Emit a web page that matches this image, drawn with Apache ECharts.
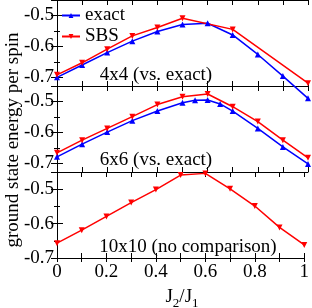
<!DOCTYPE html>
<html>
<head>
<meta charset="utf-8">
<script src="https://cdn.jsdelivr.net/npm/echarts@6/dist/echarts.min.js"></script>
<style>html,body{margin:0;padding:0;background:#fff}#c{width:312px;height:308px}</style>
</head>
<body>
<div id="c"></div>
<script>
// ---- data ----
var J2 = [0, 0.1, 0.2, 0.3, 0.4, 0.5, 0.6, 0.7, 0.8, 0.9, 1.0];
var tickLabels = ['0', '0.2', '0.4', '0.6', '0.8', '1'];

var J2_4x4_sbs = [0, 0.1, 0.2, 0.3, 0.4, 0.5, 0.7, 1.0];
var E_4x4_exact = [-0.700, -0.660, -0.620, -0.583, -0.552, -0.529, -0.525, -0.563, -0.626, -0.696, -0.768];
var E_4x4_sbs   = [-0.692, -0.653, -0.609, -0.566, -0.539, -0.509, -0.545, -0.719];

var J2_6x6_exact = [0, 0.1, 0.2, 0.3, 0.4, 0.5, 0.55, 0.6, 0.65, 0.7, 0.8, 0.9, 1.0];
var E_6x6_exact = [-0.679, -0.638, -0.599, -0.562, -0.531, -0.504, -0.496, -0.495, -0.508, -0.531, -0.587, -0.647, -0.702];
var E_6x6_sbs   = [-0.666, -0.625, -0.587, -0.549, -0.510, -0.485, -0.476, -0.517, -0.565, -0.625, -0.682];

var E_10x10_sbs = [-0.657, -0.619, -0.579, -0.539, -0.501, -0.459, -0.454, -0.499, -0.549, -0.611, -0.662];

var panelLabels = ['4x4 (vs. exact)', '6x6 (vs. exact)', '10x10 (no comparison)'];

function pairs(xs, ys) { return xs.map(function (x, i) { return [x, ys[i]]; }); }

// ---- layout ----
var FONT = 'Liberation Serif';
var grids = [
  { left: 57, right: 4, top: 0, height: 86 },
  { left: 57, right: 4, top: 86, height: 86 },
  { left: 57, right: 4, top: 172, height: 86 }
];
var yRanges = [[-0.728, -0.45], [-0.728, -0.45], [-0.7, -0.45]];

var xAxes = [], yAxes = [];
function xLabel(v) {
  var r = Math.round(v * 10);
  if (Math.abs(v * 10 - r) > 1e-6 || r % 2 !== 0) return '';
  return tickLabels[r / 2];
}
function yLabel(v) {
  var r = Math.round(v * 10);
  if (Math.abs(v * 10 - r) > 1e-6) return '';
  return (r / 10).toFixed(1);
}
grids.forEach(function (g, i) {
  var lineStyle = { color: '#000', width: 1 };
  xAxes.push({
    type: 'value', gridIndex: i, position: 'bottom', min: 0, max: 1, interval: 0.1,
    axisLine: { show: true, lineStyle: lineStyle },
    axisTick: { show: true, inside: true, length: 5, lineStyle: lineStyle },
    axisLabel: { show: i === 2, formatter: xLabel, margin: 5, color: '#000', fontFamily: FONT, fontSize: 19 },
    splitLine: { show: false }
  });
  xAxes.push({
    type: 'value', gridIndex: i, position: 'top', min: 0, max: 1, interval: 0.1,
    axisLine: { show: true, lineStyle: lineStyle },
    axisTick: { show: true, inside: true, length: 5, lineStyle: lineStyle },
    axisLabel: { show: false }, splitLine: { show: false }
  });
  xAxes.push({
    type: 'value', gridIndex: i, position: 'bottom', min: 0, max: 1, interval: 0.1,
    axisLine: { show: false },
    axisTick: { show: i === 2, inside: false, length: 4, lineStyle: lineStyle },
    axisLabel: { show: false }, splitLine: { show: false }
  });
  var yr = yRanges[i];
  yAxes.push({
    type: 'value', gridIndex: i, position: 'left', min: yr[0], max: yr[1],
    splitNumber: 3, minInterval: 0.1, maxInterval: 0.1,
    axisLine: { show: true, lineStyle: lineStyle },
    axisTick: { show: true, inside: true, length: 6, lineStyle: lineStyle },
    minorTick: { show: true, splitNumber: 2, length: 3, lineStyle: lineStyle },
    axisLabel: { show: true, formatter: yLabel, margin: 3, color: '#000', fontFamily: FONT, fontSize: 19 },
    splitLine: { show: false }, minorSplitLine: { show: false }
  });
  yAxes.push({
    type: 'value', gridIndex: i, position: 'right', min: yr[0], max: yr[1],
    splitNumber: 3, minInterval: 0.1, maxInterval: 0.1,
    axisLine: { show: true, lineStyle: lineStyle },
    axisTick: { show: true, inside: true, length: 6, lineStyle: lineStyle },
    minorTick: { show: true, splitNumber: 2, length: 3, lineStyle: lineStyle },
    axisLabel: { show: false },
    splitLine: { show: false }, minorSplitLine: { show: false }
  });
});

var BLUE = '#0000ff', RED = '#ff0000';
function exactSeries(data, gi) {
  return {
    name: 'exact', type: 'line', xAxisIndex: 3 * gi, yAxisIndex: 2 * gi, data: data,
    clip: false, symbol: 'triangle', symbolSize: 6, showAllSymbol: true,
    lineStyle: { color: BLUE, width: 1.5 }, itemStyle: { color: BLUE }, animation: false
  };
}
function sbsSeries(data, gi) {
  return {
    name: 'SBS', type: 'line', xAxisIndex: 3 * gi, yAxisIndex: 2 * gi, data: data,
    clip: false, symbol: 'triangle', symbolRotate: 180, symbolSize: 6, showAllSymbol: true,
    lineStyle: { color: RED, width: 1.5 }, itemStyle: { color: RED }, animation: false
  };
}

var panelPos = [[156, 75], [156, 160], [188, 247]];
var graphics = panelLabels.map(function (t, i) {
  return {
    type: 'text', x: panelPos[i][0], y: panelPos[i][1],
    style: { text: t, font: '19px "' + FONT + '"', fill: '#000',
      textAlign: 'center', textVerticalAlign: 'middle', align: 'center', verticalAlign: 'middle' }
  };
});
graphics.push({
  type: 'text', x: 13, y: 140, rotation: Math.PI / 2,
  style: { text: 'ground state energy per spin', font: '19px "' + FONT + '"', fill: '#000',
    textAlign: 'center', textVerticalAlign: 'middle', align: 'center', verticalAlign: 'middle' }
});
graphics.push({
  type: 'text', x: 182, y: 297,
  style: {
    text: '{m|J}{s|2}{m|/J}{s|1}', fill: '#000',
    textAlign: 'center', textVerticalAlign: 'middle', align: 'center', verticalAlign: 'middle',
    rich: {
      m: { fontFamily: FONT, fontSize: 19, lineHeight: 26, verticalAlign: 'middle', fill: '#000' },
      s: { fontFamily: FONT, fontSize: 13, lineHeight: 26, verticalAlign: 'bottom', fill: '#000' }
    }
  }
});

var chart = echarts.init(document.getElementById('c'), null, { renderer: 'canvas' });
chart.setOption({
  animation: false,
  backgroundColor: '#fff',
  grid: grids,
  xAxis: xAxes,
  yAxis: yAxes,
  legend: {
    data: ['exact', 'SBS'], orient: 'vertical', left: 61, top: 6, padding: 0,
    itemWidth: 18, itemHeight: 6, itemGap: 2,
    textStyle: { fontFamily: FONT, fontSize: 19, lineHeight: 15, color: '#000' }
  },
  series: [
    exactSeries(pairs(J2, E_4x4_exact), 0),
    sbsSeries(pairs(J2_4x4_sbs, E_4x4_sbs), 0),
    exactSeries(pairs(J2_6x6_exact, E_6x6_exact), 1),
    sbsSeries(pairs(J2, E_6x6_sbs), 1),
    sbsSeries(pairs(J2, E_10x10_sbs), 2)
  ],
  graphic: graphics
});
</script>
</body>
</html>
